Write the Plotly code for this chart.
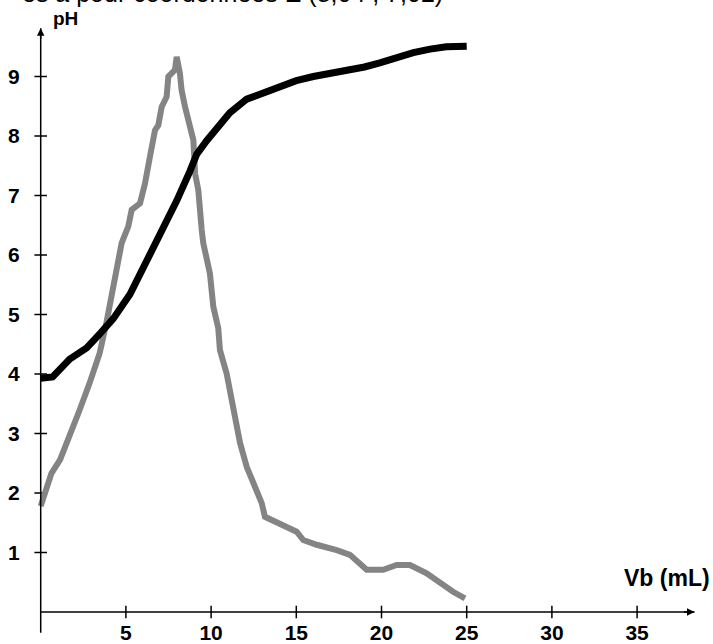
import plotly.graph_objects as go

# --- data ---
vb_ph = [0, 0.7, 1.7, 2.7, 3.48, 3.9, 4.26, 5.24, 6.22, 7.2, 7.98, 8.76, 9.15, 9.74,
         10.33, 11.1, 12.09, 13.06, 14.04, 15, 16, 17, 18, 19, 19.9, 20.9, 21.87,
         22.85, 23.8, 25]
ph = [3.93, 3.95, 4.25, 4.44, 4.68, 4.8, 4.93, 5.34, 5.9, 6.4, 6.91, 7.41, 7.69, 7.92,
      8.14, 8.39, 8.62, 8.73, 8.84, 8.93, 9.0, 9.05, 9.1, 9.16, 9.23, 9.33, 9.4,
      9.46, 9.5, 9.51]

vb_deriv = [0, 0.63, 1.14, 1.64, 2.25, 2.85, 3.46, 3.87, 4.46, 4.75, 5.14, 5.34, 5.83,
            6.12, 6.41, 6.71, 6.9, 7.1, 7.39, 7.49, 7.88, 7.98, 8.17, 8.27, 8.47, 8.76,
            8.96, 9.06, 9.25, 9.45, 9.54, 9.93, 10.13, 10.42, 10.52, 10.91, 11.11, 11.4,
            11.7, 12.09, 12.48, 12.97, 13.16, 14.24, 15.02, 15.41, 16.2, 17.37, 18.15,
            19.13, 20.1, 20.89, 21.67, 22.65, 23.43, 24.2, 24.9]
deriv = [1.78, 2.33, 2.56, 2.91, 3.37, 3.83, 4.35, 4.88, 5.75, 6.2, 6.48, 6.76, 6.87,
         7.2, 7.65, 8.1, 8.18, 8.49, 8.66, 9.0, 9.11, 9.33, 9.05, 8.77, 8.49, 8.21,
         7.93, 7.37, 7.09, 6.42, 6.2, 5.69, 5.13, 4.77, 4.4, 4.01, 3.68, 3.28,
         2.84, 2.44, 2.16, 1.83, 1.6, 1.46, 1.35, 1.21, 1.13, 1.04, 0.96,
         0.71, 0.71, 0.79, 0.79, 0.65, 0.48, 0.34, 0.23]

x_ticks = [5, 10, 15, 20, 25, 30, 35]
y_ticks = [1, 2, 3, 4, 5, 6, 7, 8, 9]

x_end = 38.37
y_top = 9.81
y_bottom = -0.35

FONT = "Arial, 'Liberation Sans', sans-serif"

fig = go.Figure()

# axis lines
fig.add_shape(type="line", x0=0, x1=x_end, y0=0, y1=0, xref="x", yref="y",
              line=dict(color="black", width=1.5))
fig.add_shape(type="line", x0=0, x1=0, y0=y_bottom, y1=y_top, xref="x", yref="y",
              line=dict(color="black", width=1.5))

# tick marks crossing the axes
fig.add_trace(go.Scatter(x=x_ticks, y=[0] * len(x_ticks), mode="markers",
                         marker=dict(symbol="line-ns", size=9,
                                     line=dict(color="black", width=1.5)),
                         hoverinfo="skip", showlegend=False))
fig.add_trace(go.Scatter(x=[0] * len(y_ticks), y=y_ticks, mode="markers",
                         marker=dict(symbol="line-ew", size=9,
                                     line=dict(color="black", width=1.5)),
                         hoverinfo="skip", showlegend=False))

# curves
fig.add_trace(go.Scatter(x=vb_deriv, y=deriv, mode="lines",
                         line=dict(color="#848484", width=6),
                         showlegend=False, name="dpH/dVb"))
fig.add_trace(go.Scatter(x=vb_ph, y=ph, mode="lines",
                         line=dict(color="black", width=7),
                         showlegend=False, name="pH"))

# arrowheads
fig.add_annotation(x=x_end, y=0, xref="x", yref="y", ax=-12, ay=0, text="",
                   showarrow=True, arrowhead=2, arrowsize=1, arrowwidth=1.5,
                   arrowcolor="black")
fig.add_annotation(x=0, y=y_top, xref="x", yref="y", ax=0, ay=12, text="",
                   showarrow=True, arrowhead=2, arrowsize=1, arrowwidth=1.5,
                   arrowcolor="black")

W, H = 713, 644
ml, mr, mt, mb = 20, 13, 10, 9
px_per_ml = 17.04
px_per_ph = 59.5
x0_px = 40.7
y0_px = 612
PW, PH = W - ml - mr, H - mt - mb


def px(xp):
    return (xp - ml) / PW


def py(yp):
    return (H - mb - yp) / PH


# labels
fig.add_annotation(x=px(51), y=py(18), xref="paper", yref="paper", text="pH",
                   showarrow=False, xanchor="left", yanchor="middle",
                   font=dict(family=FONT, size=19, color="black", weight="bold"))
fig.add_annotation(x=px(712), y=py(578), xref="paper", yref="paper", text="Vb (mL)",
                   showarrow=False, xanchor="right", yanchor="middle",
                   font=dict(family=FONT, size=23, color="black", weight="bold"))
fig.add_annotation(x=px(445), y=py(9), xref="paper", yref="paper",
                   text="es a pour coordonnées E (8,04 ; 7,02)", showarrow=False,
                   xanchor="right", yanchor="bottom",
                   font=dict(family=FONT, size=25, color="black"))

x_lo = (ml - x0_px) / px_per_ml
x_hi = (W - mr - x0_px) / px_per_ml
y_hi = (y0_px - mt) / px_per_ph
y_lo = (y0_px - (H - mb)) / px_per_ph

fig.update_layout(
    width=W, height=H,
    margin=dict(l=ml, r=mr, t=mt, b=mb, autoexpand=False),
    plot_bgcolor="white", paper_bgcolor="white",
    xaxis=dict(range=[x_lo, x_hi], showgrid=False, zeroline=False, showline=False,
               tickvals=x_ticks, ticktext=[str(v) for v in x_ticks], ticks="",
               anchor="free", position=py(y0_px),
               ticklabelstandoff=6, automargin=False,
               tickfont=dict(family=FONT, size=21, color="black", weight="bold")),
    yaxis=dict(range=[y_lo, y_hi], showgrid=False, zeroline=False, showline=False,
               tickvals=y_ticks, ticktext=[str(v) for v in y_ticks], ticks="",
               anchor="free", position=px(x0_px),
               ticklabelstandoff=21, automargin=False,
               tickfont=dict(family=FONT, size=21, color="black", weight="bold")),
)

fig.write_html("out.html",
               config={"displayModeBar": False},
               post_script="document.body.style.margin='0';"
                           "document.body.style.overflow='hidden';")
